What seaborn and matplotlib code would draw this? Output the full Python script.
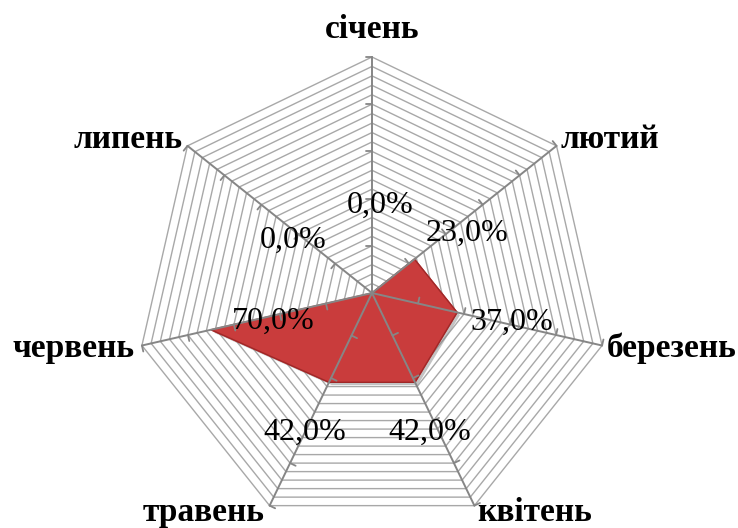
import numpy as np
import matplotlib.pyplot as plt
import matplotlib.patheffects as pe
import seaborn as sns
import pandas as pd

sns.set_style('white')
plt.rcParams['font.family'] = ['Liberation Serif', 'DejaVu Serif']

months = ['січень', 'лютий', 'березень', 'квітень', 'травень', 'червень', 'липень']
values = [0.0, 23.0, 37.0, 42.0, 42.0, 70.0, 0.0]
label_texts = ['0,0%', '23,0%', '37,0%', '42,0%', '42,0%', '70,0%', '0,0%']

# label placement (pixels) -- style only
data_label_offsets = [(8, 88), (53, 26), (55, -10), (15, -50), (-24, -50), (62, 8), (-79, 53)]
cat_label_style = [
    ('center', 'bottom', 0, 12),
    ('left', 'center', 4, 6),
    ('left', 'center', 5, -3),
    ('left', 'center', 3, -7),
    ('right', 'center', -5, -7),
    ('right', 'center', -7, -3),
    ('right', 'center', -5, 6),
]

n = len(months)
theta = np.arange(n) * 2 * np.pi / n
rmax = 100
rings = np.arange(4, 101, 4)
major = np.arange(20, 101, 20)


def xy(r, t):
    return r * np.sin(t), r * np.cos(t)


W, H = 738, 528
cx, cy, rad = 372, 293, 236
s = rmax / rad
fig = plt.figure(figsize=(W / 100, H / 100), dpi=100)
ax = fig.add_axes([0, 0, 1, 1])
ax.set_xlim(-cx * s, (W - cx) * s)
ax.set_ylim(-(H - cy) * s, cy * s)
ax.set_aspect('equal')
ax.axis('off')

tc = np.append(theta, theta[0])
for r in rings:
    gx, gy = xy(r, tc)
    ax.plot(gx, gy, color='#a8a8a8', lw=1.0, zorder=1)

for t in theta:
    sx, sy = xy(np.array([0, rmax]), t)
    ax.plot(sx, sy, color='#868686', lw=1.4, zorder=3)
    # tick marks
    dx, dy = np.sin(t), np.cos(t)
    px, py = -dy, dx
    for m in major:
        mx, my = xy(m, t)
        ax.plot([mx, mx + px * 2.6], [my, my + py * 2.6], color='#868686', lw=1.3, zorder=3)

df = pd.DataFrame({'month': months + [months[0]], 'value': values + [values[0]],
                   'theta': np.append(theta, theta[0])})
df['x'] = df['value'] * np.sin(df['theta'])
df['y'] = df['value'] * np.cos(df['theta'])

ax.fill(df['x'], df['y'], color='#c93c3c', zorder=2,
        path_effects=[pe.SimplePatchShadow(offset=(2, -2), shadow_rgbFace='#888888', alpha=0.5), pe.Normal()])
sns.lineplot(data=df, x='x', y='y', sort=False, color='#a02828', lw=1.0, ax=ax, zorder=2)
ax.set_xlabel('')
ax.set_ylabel('')
ax.axis('off')

for i in range(n):
    px_, py_ = xy(values[i], theta[i])
    ax.annotate(label_texts[i], (px_, py_), xytext=data_label_offsets[i],
                textcoords='offset pixels', ha='center', va='center',
                fontsize=23, color='black', zorder=5)
    vx, vy = xy(rmax, theta[i])
    ha, va, ox, oy = cat_label_style[i]
    ax.annotate(months[i], (vx, vy), xytext=(ox, oy), textcoords='offset pixels',
                ha=ha, va=va, fontsize=24, fontweight='bold', color='black', zorder=5)

fig.savefig('out.png', dpi=100)
